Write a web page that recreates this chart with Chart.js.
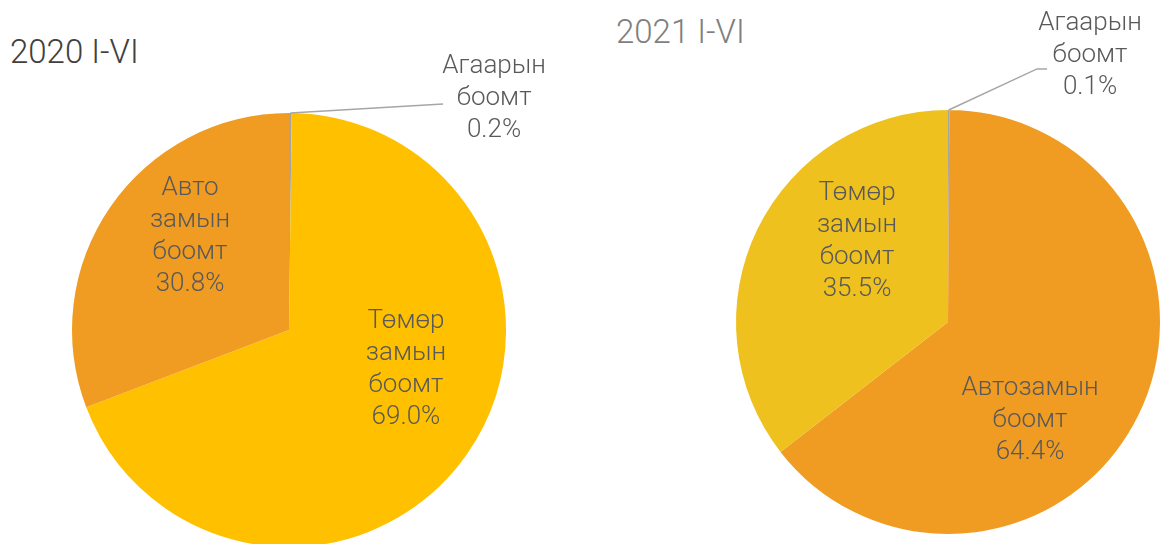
<!DOCTYPE html>
<html>
<head>
<meta charset="utf-8">
<script src="https://cdn.jsdelivr.net/npm/chart.js@4"></script>
<style>
  html, body { margin: 0; padding: 0; background: #fff; overflow: hidden; }
  body { width: 1163px; height: 544px; position: relative; font-family: Roboto, sans-serif; }
  .title { position: absolute; font-size: 33px; font-weight: 300; line-height: 32px; white-space: nowrap; }
  #t2020 { left: 10px; top: 36px; color: #404040; }
  #t2021 { left: 616px; top: 16px; color: #7f7f7f; }
  #wrap2020 { position: absolute; left: 0; top: 0; width: 580px; height: 560px; }
  #wrap2021 { position: absolute; left: 580px; top: 0; width: 583px; height: 544px; }
</style>
</head>
<body>
<div class="title" id="t2020">2020 I-VI</div>
<div class="title" id="t2021">2021 I-VI</div>
<div id="wrap2020"><canvas id="pie2020"></canvas></div>
<div id="wrap2021"><canvas id="pie2021"></canvas></div>
<script>
// 2020 оны I-VI сар
const labels2020 = ['Агаарын боомт', 'Төмөр замын боомт', 'Авто замын боомт'];
const values2020 = [0.2, 69.0, 30.8];
const colors2020 = ['#a5a5a5', '#ffc000', '#f09c22'];

// 2021 оны I-VI сар
const labels2021 = ['Агаарын боомт', 'Автозамын боомт', 'Төмөр замын боомт'];
const values2021 = [0.1, 64.4, 35.5];
const colors2021 = ['#a5a5a5', '#f09c22', '#efc11f'];

// draws the labels inside the slices, and outside with a leader line for the tiny ones
const sliceLabels = {
    id: 'sliceLabels',
    afterDatasetsDraw(chart, args, opts) {
        const ctx = chart.ctx;
        const meta = chart.getDatasetMeta(0);
        const values = chart.data.datasets[0].data;
        ctx.save();
        ctx.font = '300 26px Roboto';
        ctx.fillStyle = '#595959';
        ctx.textAlign = 'center';
        ctx.textBaseline = 'middle';
        meta.data.forEach((arc, i) => {
            const p = arc.getProps(['x', 'y', 'startAngle', 'endAngle', 'outerRadius'], true);
            const r = p.outerRadius;
            const place = opts.place[i];
            const lx = p.x + place.dx * r;
            const ly = p.y + place.dy * r;
            const lines = chart.data.labels[i].split(' ');
            lines.push(values[i].toFixed(1) + '%');
            const lh = 32;
            const y0 = ly - (lines.length - 1) * lh / 2;
            lines.forEach((t, k) => ctx.fillText(t, lx, y0 + k * lh));

            if (place.leader) {
                const mid = (p.startAngle + p.endAngle) / 2;
                ctx.beginPath();
                ctx.strokeStyle = '#a6a6a6';
                ctx.lineWidth = 1.5;
                ctx.moveTo(p.x + Math.cos(mid) * r, p.y + Math.sin(mid) * r);
                place.leader.forEach(pt => ctx.lineTo(lx + pt[0], ly + pt[1]));
                ctx.stroke();
            }
        });
        ctx.restore();
    }
};

const makePie = (id, labels, values, colors, padding, place) => {
    var ctx = document.getElementById(id).getContext('2d');
    return new Chart(ctx, {
        type: 'pie',
        data: {
            labels: labels,
            datasets: [{
                data: values,
                backgroundColor: colors,
                borderWidth: 0
            }]
        },
        options: {
            responsive: true,
            maintainAspectRatio: false,
            animation: false,
            layout: { padding: padding },
            plugins: {
                legend: { display: false },
                tooltip: { enabled: false },
                sliceLabels: { place: place }
            }
        },
        plugins: [sliceLabels]
    });
};

makePie('pie2020', labels2020, values2020, colors2020,
    { left: 72, right: 74, top: 113, bottom: 13 },
    [
        { dx: 0.945, dy: -1.065, leader: [[-51, 5]] },
        { dx: 0.539, dy: 0.180 },
        { dx: -0.456, dy: -0.430 }
    ]);

makePie('pie2021', labels2021, values2021, colors2021,
    { left: 156, right: 3, top: 110, bottom: 10 },
    [
        { dx: 0.670, dy: -1.255, leader: [[-53, 13], [-43, 13]] },
        { dx: 0.387, dy: 0.466 },
        { dx: -0.429, dy: -0.378 }
    ]);
</script>
</body>
</html>
